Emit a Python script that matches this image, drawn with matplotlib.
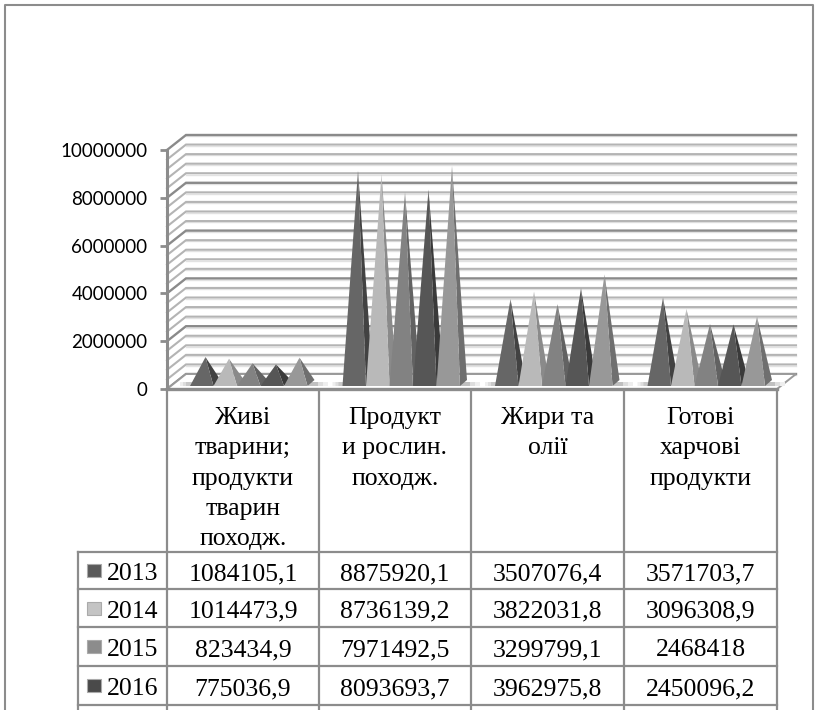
import matplotlib
matplotlib.use('Agg')
import matplotlib.pyplot as plt
from matplotlib.patches import Polygon, Rectangle

W, H = 819, 710

categories = ['Живі\nтварини;\nпродукти\nтварин\nпоходж.', 'Продукт\nи рослин.\nпоходж.', 'Жири та\nолії', 'Готові\nхарчові\nпродукти']
years = ['2013', '2014', '2015', '2016']
v2013 = [1084105.1, 8875920.1, 3507076.4, 3571703.7]
v2014 = [1014473.9, 8736139.2, 3822031.8, 3096308.9]
v2015 = [823434.9, 7971492.5, 3299799.1, 2468418]
v2016 = [775036.9, 8093693.7, 3962975.8, 2450096.2]
# last row is cut off in the picture, read from the heights
v2017 = [1060000, 9080000, 4540000, 2770000]
labels2013 = ['1084105,1', '8875920,1', '3507076,4', '3571703,7']
labels2014 = ['1014473,9', '8736139,2', '3822031,8', '3096308,9']
labels2015 = ['823434,9', '7971492,5', '3299799,1', '2468418']
labels2016 = ['775036,9', '8093693,7', '3962975,8', '2450096,2']
yticks = [0, 2000000, 4000000, 6000000, 8000000, 10000000]

front = ['#666666', '#b9b9b9', '#828282', '#565656', '#989898']
side = ['#424242', '#8a8a8a', '#626262', '#3a3a3a', '#6f6f6f']
swatch = ['#5a5a5a', '#c4c4c4', '#8c8c8c', '#4a4a4a', '#9a9a9a']

fig = plt.figure(figsize=(W / 100, H / 100), dpi=100)

# pixel layer for frame and table
bg = fig.add_axes([0, 0, 1, 1])
bg.set_xlim(0, W)
bg.set_ylim(H, 0)
bg.axis('off')

# front plane of the chart: 167..777 px, 389..150 px
ax = fig.add_axes([167 / W, 1 - 389 / H, 610 / W, 239 / H])
ax.set_xlim(0, 4)
ax.set_ylim(0, 10000000)
ax.patch.set_alpha(0)
for s in ax.spines.values():
    s.set_visible(False)
ax.set_xticks([])
ax.set_yticks(yticks)
ax.set_yticklabels([str(t) for t in yticks], family='Lato', fontsize=13.5, color='black')
ax.tick_params(axis='y', length=5, width=2, color='#8c8c8c', pad=9)

px = 4 / 610
py = 10000000 / 239
dx, dy = 19 * px, 15 * py

# walls
for i in range(26):
    v = i * 400000
    major = i % 5 == 0
    c = '#8a8a8a' if major else '#b4b4b4'
    # soft line under each grid line
    ax.plot([dx, 4 + dx], [v + dy - 1.3 * py, v + dy - 1.3 * py], color='#e2e2e2', lw=1.0, clip_on=False, zorder=1)
    ax.plot([0, dx, 4 + dx], [v, v + dy, v + dy], color=c, lw=1.7 if major else 1.5, clip_on=False, zorder=1, solid_joinstyle='miter')

# floor
ax.add_patch(Polygon([(0, 0), (dx, dy), (4 + dx, dy), (4, 0)], closed=True, fc='white', ec='#9a9a9a', lw=1.4, clip_on=False, zorder=2))
ax.plot([0, 0], [0, 10000000], color='#8c8c8c', lw=2.2, clip_on=False, zorder=3)
ax.plot([0, 4], [0, 0], color='#8c8c8c', lw=2.4, clip_on=False, zorder=3)

# pyramids
w = 23.5 * px
left0 = 23 * px
base = 3 * py
tip_up = 6 * py
series = [v2013, v2014, v2015, v2016, v2017]
for c in range(4):
    for s, vals in enumerate(series):
        x0 = c + left0 + s * w
        x1 = x0 + w
        tx = x0 + 15.5 * px
        ty = vals[c] + tip_up
        # floor shadow either side of the group, fading out
        if s == 0:
            for n, col in enumerate(['#eeeeee', '#dddddd', '#c8c8c8']):
                ax.add_patch(Polygon([(x0 - (10 - 3 * n) * px, base + 4 * py), (x0 + 6 * px, base + 4 * py), (x0, base), (x0 - (10 - 3 * n) * px, base)], closed=True, fc=col, ec='none', clip_on=False, zorder=4))
        if s == 4:
            for n, col in enumerate(['#eeeeee', '#dddddd', '#c0c0c0']):
                ax.add_patch(Polygon([(x1, base), (x1 + (20 - 5 * n) * px, base), (x1 + (20 - 5 * n) * px, base + 4 * py), (x1, base + 4 * py)], closed=True, fc=col, ec='none', clip_on=False, zorder=4))
        ax.add_patch(Polygon([(x1, base), (x1 + 7 * px, base + 6 * py), (tx, ty)], closed=True, fc=side[s], ec='none', clip_on=False, zorder=5 + s))
        ax.add_patch(Polygon([(x0, base), (x1, base), (tx, ty)], closed=True, fc=front[s], ec='none', clip_on=False, zorder=5 + s))

# outer frame, runs off the bottom of the picture
bg.plot([5, 5, 813, 813], [H, 5, 5, H], color='#8c8c8c', lw=1.5)

# table
grid = '#8c8c8c'
col_x = [78, 167, 319, 471, 624, 777]
row_y = [389, 552, 589, 627, 666, 705]
for x in col_x[1:]:
    bg.plot([x, x], [389, H], color=grid, lw=1.6)
bg.plot([78, 78], [552, H], color=grid, lw=1.6)
for y in row_y[1:]:
    bg.plot([78, 777], [y, y], color=grid, lw=1.6)

serif = 'Liberation Serif'
for c, name in enumerate(categories):
    bg.text((col_x[c + 1] + col_x[c + 2]) / 2, 407, name, family=serif, fontsize=18.5, ha='center', va='top', linespacing=1.49)

rows = [labels2013, labels2014, labels2015, labels2016]
for r, (year, row) in enumerate(zip(years, rows)):
    cy = (row_y[r + 1] + row_y[r + 2]) / 2
    bg.add_patch(Rectangle((87, cy - 6.5), 14, 13, fc=swatch[r], ec='#aaaaaa', lw=0.8))
    bg.text(133, cy + 1, year, family=serif, fontsize=18.5, ha='center', va='center_baseline')
    for c, t in enumerate(row):
        bg.text((col_x[c + 1] + col_x[c + 2]) / 2, cy + 1, t, family=serif, fontsize=18.5, ha='center', va='center_baseline')

fig.savefig('out.png', dpi=100)
